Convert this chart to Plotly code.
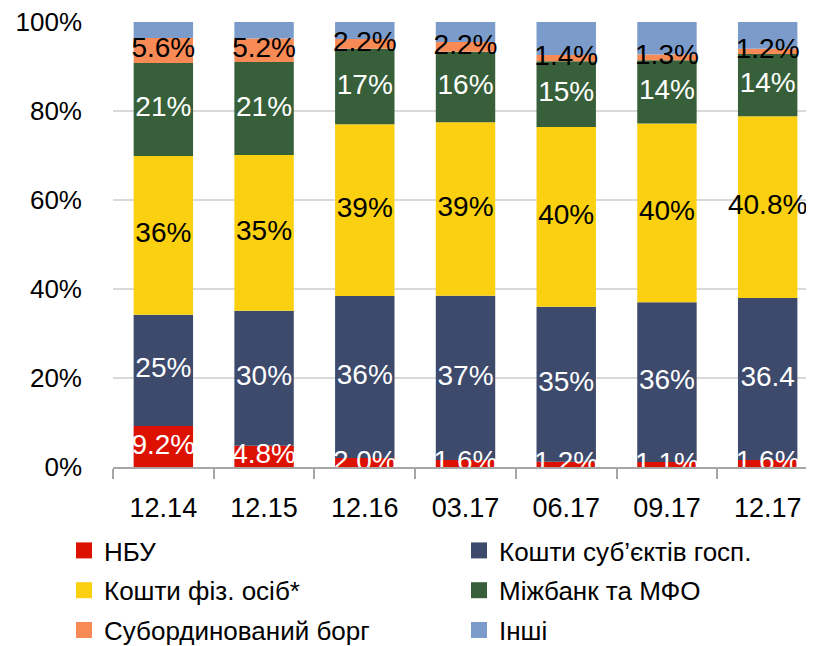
import plotly.graph_objects as go

categories = ["12.14", "12.15", "12.16", "03.17", "06.17", "09.17", "12.17"]

nbu = [9.2, 4.8, 2.0, 1.6, 1.2, 1.1, 1.6]
corp = [25.0, 30.3, 36.4, 36.9, 34.8, 35.9, 36.4]
indiv = [35.7, 35.0, 38.6, 39.0, 40.4, 40.2, 40.8]
interbank = [20.9, 20.9, 17.0, 15.8, 14.8, 14.2, 14.0]
subord = [5.6, 5.3, 2.2, 2.2, 1.4, 1.3, 1.2]
other = [3.6, 3.7, 3.8, 4.5, 7.4, 7.3, 6.0]

nbu_labels = ["9.2%", "4.8%", "2.0%", "1.6%", "1.2%", "1.1%", "1.6%"]
corp_labels = ["25%", "30%", "36%", "37%", "35%", "36%", "36.4"]
indiv_labels = ["36%", "35%", "39%", "39%", "40%", "40%", "40.8%"]
interbank_labels = ["21%", "21%", "17%", "16%", "15%", "14%", "14%"]
subord_labels = ["5.6%", "5.2%", "2.2%", "2.2%", "1.4%", "1.3%", "1.2%"]

y_tickvals = [0, 20, 40, 60, 80, 100]
y_ticktext = ["0%", "20%", "40%", "60%", "80%", "100%"]

FONT = "Liberation Sans, Arial, sans-serif"

series = [
    ("НБУ", nbu, "#DD1100", nbu_labels, "white", "legend"),
    ("Кошти суб’єктів госп.", corp, "#3D4A6C", corp_labels, "white", "legend2"),
    ("Кошти фіз. осіб*", indiv, "#FAD011", indiv_labels, "black", "legend"),
    ("Міжбанк та МФО", interbank, "#37603A", interbank_labels, "white", "legend2"),
    ("Субординований борг", subord, "#F88A55", subord_labels, "black", "legend"),
    ("Інші", other, "#7B9BCB", None, None, "legend2"),
]

fig = go.Figure()

base = [0.0] * len(categories)
text_traces = []
for name, vals, color, labels, tcolor, leg in series:
    fig.add_trace(go.Bar(
        x=categories, y=vals, base=base[:], name=name,
        marker=dict(color=color, line=dict(width=0)),
        showlegend=False, hoverinfo="skip",
    ))
    mids = [b + v / 2 for b, v in zip(base, vals)]
    if labels is not None:
        text_traces.append(go.Scatter(
            x=categories, y=mids, mode="text", text=labels,
            textfont=dict(family=FONT, size=28, color=tcolor),
            textposition="middle center", showlegend=False,
            hoverinfo="skip", cliponaxis=False,
        ))
    base = [b + v for b, v in zip(base, vals)]

for t in text_traces:
    fig.add_trace(t)

# legend entries
for i, (name, vals, color, labels, tcolor, leg) in enumerate(series):
    fig.add_trace(go.Scatter(
        x=[None], y=[None], mode="markers", name=name,
        marker=dict(symbol="square", size=16, color=color),
        legend=leg, legendgroup=name, showlegend=True,
    ))

W, H = 806, 638

legend_common = dict(
    orientation="v", traceorder="grouped", tracegroupgap=3,
    font=dict(family=FONT, size=26, color="black"),
    bgcolor="rgba(0,0,0,0)", xanchor="left", yanchor="bottom",
    yref="paper", y=-187 / 445, xref="container",
    itemwidth=30,
)

fig.update_layout(
    width=W, height=H,
    margin=dict(l=105, r=0, t=14, b=179, autoexpand=False),
    paper_bgcolor="white", plot_bgcolor="white",
    barmode="overlay", bargap=0.41,
    font=dict(family=FONT, size=26, color="black"),
    legend=dict(x=56 / W, **legend_common),
    legend2=dict(x=451 / W, **legend_common),
    xaxis=dict(
        type="category", range=[-0.5, 6.46],
        showline=True, linecolor="#A6A6A6", linewidth=2,
        ticks="outside", tickson="boundaries", ticklen=10, tickwidth=2,
        tickcolor="#A6A6A6", showgrid=False,
        tickfont=dict(family=FONT, size=27, color="black"),
        ticklabelstandoff=16, ticklabeloverflow="allow",
    ),
    yaxis=dict(
        range=[0, 100], tickvals=y_tickvals, ticktext=y_ticktext,
        showgrid=True, gridcolor="#D9D9D9", gridwidth=2,
        zeroline=False, showline=False, ticks="",
        tickfont=dict(family=FONT, size=26, color="black"),
        ticklabelstandoff=30, ticklabeloverflow="allow",
    ),
)

fig.write_html("out.html")
